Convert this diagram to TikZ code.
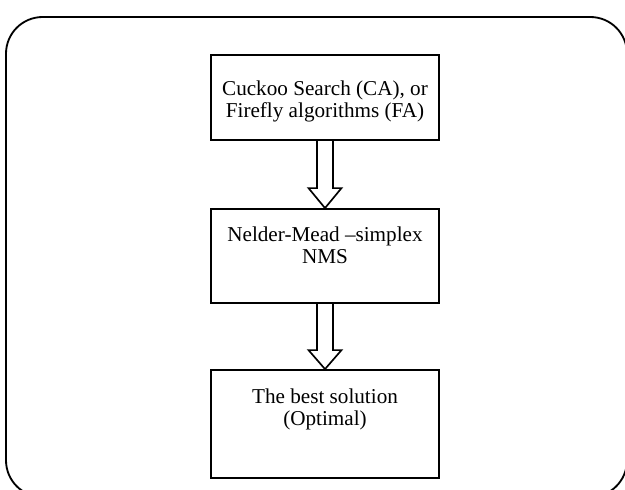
\documentclass[tikz,border=0pt]{standalone}
\usepackage{fontspec}
\setmainfont{Liberation Serif}
\usetikzlibrary{calc}
\begin{document}
\begin{tikzpicture}[x=0.6pt,y=-0.6pt,
  outer/.style={draw=black,line width=1.1pt,rounded corners=22pt},
  stepbox/.style={draw=black,line width=1.1pt,minimum width=136.8pt,inner sep=0pt},
  txt/.style={anchor=north,inner sep=0pt,align=center,font=\fontsize{12.7}{13.2}\selectfont},
  hollow/.style={draw=black,line width=1pt,line join=miter}]
\useasboundingbox (0,0) rectangle (625,489);
\draw[outer] (6,17) rectangle (627,497);
\node[stepbox,minimum height=51pt] (b1) at (325,97.5) {};
\node[stepbox,minimum height=56.4pt] (b2) at (325,256) {};
\node[stepbox,minimum height=64.8pt] (b3) at (325,424) {};
\node[txt] (t1) at (325,79.6) {\strut Cuckoo Search (CA), or\\Firefly algorithms (FA)};
\node[txt] (t2) at (325,225.6) {\strut Nelder-Mead --simplex\\NMS};
\node[txt] (t3) at (325,387.6) {\strut The best solution\\(Optimal)};
\draw[hollow] ($(b1.south)+(-8,0)$) -- ($(b2.north)+(-8,-20)$) -- ($(b2.north)+(-16.5,-20)$) -- (b2.north) -- ($(b2.north)+(16.5,-20)$) -- ($(b2.north)+(8,-20)$) -- ($(b1.south)+(8,0)$);
\draw[hollow] ($(b2.south)+(-8,0)$) -- ($(b3.north)+(-8,-19)$) -- ($(b3.north)+(-16.5,-19)$) -- (b3.north) -- ($(b3.north)+(16.5,-19)$) -- ($(b3.north)+(8,-19)$) -- ($(b2.south)+(8,0)$);
\end{tikzpicture}
\end{document}
